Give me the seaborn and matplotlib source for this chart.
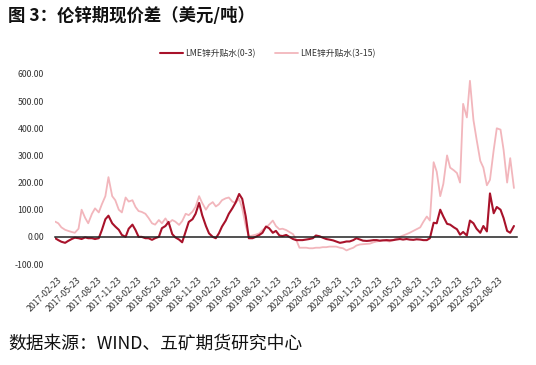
import numpy as np
import pandas as pd
import matplotlib
matplotlib.use("Agg")
import matplotlib.pyplot as plt
import matplotlib.dates as mdates
import seaborn as sns

# semi-monthly readings (1st / 15th), 2017-02-15 .. 2022-11-01
# LME zinc cash-3M spread, USD/t
spread_0_3 = [
    -5, -12, -18, -22, -15, -8, -3, -5, -8, -2, -5, -5, -8, -5, 25, 65, 78, 50, 38, 26, 7,  # 2017
    0, 30, 45, 25, 0, 0, -5, -5, -11, -5, 0, 32, 40, 55, 10, -2, -10, -20, 20, 55, 65, 85, 125, 80,  # 2018
    40, 13, 0, -5, 13, 38, 60, 85, 105, 125, 158, 140, 75, -5, -5, 0, 7, 15, 38, 32, 15, 22, 5, 3,  # 2019
    7, 0, -8, -12, -12, -12, -10, -8, -5, 5, 2, -3, -8, -10, -13, -17, -22, -20, -17, -17, -12, -5, -10, -14,  # 2020
    -15, -14, -12, -12, -14, -13, -12, -13, -12, -10, -8, -10, -8, -10, -11, -9, -10, -12, -12, -5, 52, 50, 100, 75,  # 2021
    48, 45, 35, 28, 8, 18, 5, 60, 50, 30, 15, 40, 20, 160, 87, 110, 100, 69, 22, 15, 40,  # 2022
]

# LME zinc 3M-15M spread, USD/t
spread_3_15 = [
    56, 50, 35, 26, 22, 18, 15, 30, 100, 70, 50, 85, 105, 90, 120, 150, 220, 150, 135, 100, 90,  # 2017
    145, 130, 135, 110, 95, 92, 85, 70, 50, 45, 62, 50, 68, 50, 62, 56, 44, 58, 85, 80, 93, 111, 150, 125,  # 2018
    100, 118, 128, 112, 120, 135, 142, 145, 130, 125, 140, 105, 40, 2, 5, 8, 13, 25, 35, 45, 60, 40, 28, 30,  # 2019
    25, 18, 10, -10, -40, -40, -40, -42, -42, -40, -40, -38, -38, -36, -36, -36, -40, -42, -50, -45, -40, -32, -28, -27,  # 2020
    -26, -25, -20, -17, -15, -12, -15, -17, -12, -5, 0, 5, 10, 15, 22, 28, 35, 55, 75, 60, 275, 240, 150, 195,  # 2021
    300, 255, 245, 235, 200, 490, 440, 575, 430, 360, 280, 255, 190, 210, 320, 400, 395, 320, 200, 290, 180,  # 2022
]

series_names = ["LME锌升贴水(0-3)", "LME锌升贴水(3-15)"]
series_colors = ["#A8122A", "#F2B6BC"]
y_ticks = [-100, 0, 100, 200, 300, 400, 500, 600]

dates = pd.date_range("2017-02-15", periods=len(spread_0_3), freq="SMS")
df = pd.DataFrame({"date": dates, series_names[0]: spread_0_3, series_names[1]: spread_3_15})

sns.set_style("white")
plt.rcParams["font.family"] = ["Noto Sans CJK SC", "DejaVu Sans"]
plt.rcParams["axes.unicode_minus"] = False

fig = plt.figure(figsize=(5.36, 3.65), dpi=100)
ax = fig.add_axes([0.1026, 0.2767, 0.862, 0.5206])

# pink series first so the dark one sits on top
sns.lineplot(data=df, x="date", y=series_names[1], ax=ax, color=series_colors[1],
             linewidth=1.3, label=series_names[1])
sns.lineplot(data=df, x="date", y=series_names[0], ax=ax, color=series_colors[0],
             linewidth=1.5, label=series_names[0])

ax.set_ylim(-100, 600)
ax.set_xlim(pd.Timestamp("2017-02-14"), pd.Timestamp("2022-11-15"))
ax.set_yticks(y_ticks)
ax.set_yticklabels([f"{v:.2f}" for v in y_ticks])
ax.set_xlabel("")
ax.set_ylabel("")

for s in ["top", "right", "left"]:
    ax.spines[s].set_visible(False)
ax.spines["bottom"].set_position(("data", 0))
ax.spines["bottom"].set_color("#222222")
ax.spines["bottom"].set_linewidth(1.1)

ax.xaxis.set_major_locator(mdates.MonthLocator(bymonth=(2, 5, 8, 11), bymonthday=23))
ax.xaxis.set_major_formatter(mdates.DateFormatter("%Y-%m-%d"))
ax.tick_params(axis="x", direction="out", length=3, width=0.8, color="#222222",
               pad=25, labelsize=6.3, labelcolor="#333333")
ax.tick_params(axis="y", length=0, labelsize=6.3, labelcolor="#333333", pad=8)
for lab in ax.get_xticklabels():
    lab.set_rotation(45)
    lab.set_ha("right")
    lab.set_rotation_mode("anchor")

# legend on top, dark series first
handles, labels = ax.get_legend_handles_labels()
ax.get_legend().remove()
fig.legend(handles[::-1], labels[::-1], loc="center", bbox_to_anchor=(0.5, 0.853),
           ncol=2, frameon=False, fontsize=6.3, handlelength=2.6, handletextpad=0.3,
           columnspacing=2.2, labelcolor="#333333")

fig.text(0.015, 0.955, "图 3：伦锌期现价差（美元/吨）", fontsize=12.5, fontweight="bold",
         va="center", ha="left", color="#111111")
fig.text(0.015, 0.06, "数据来源：WIND、五矿期货研究中心", fontsize=12.8, va="center",
         ha="left", color="#111111")

fig.savefig("out.png", dpi=100)
